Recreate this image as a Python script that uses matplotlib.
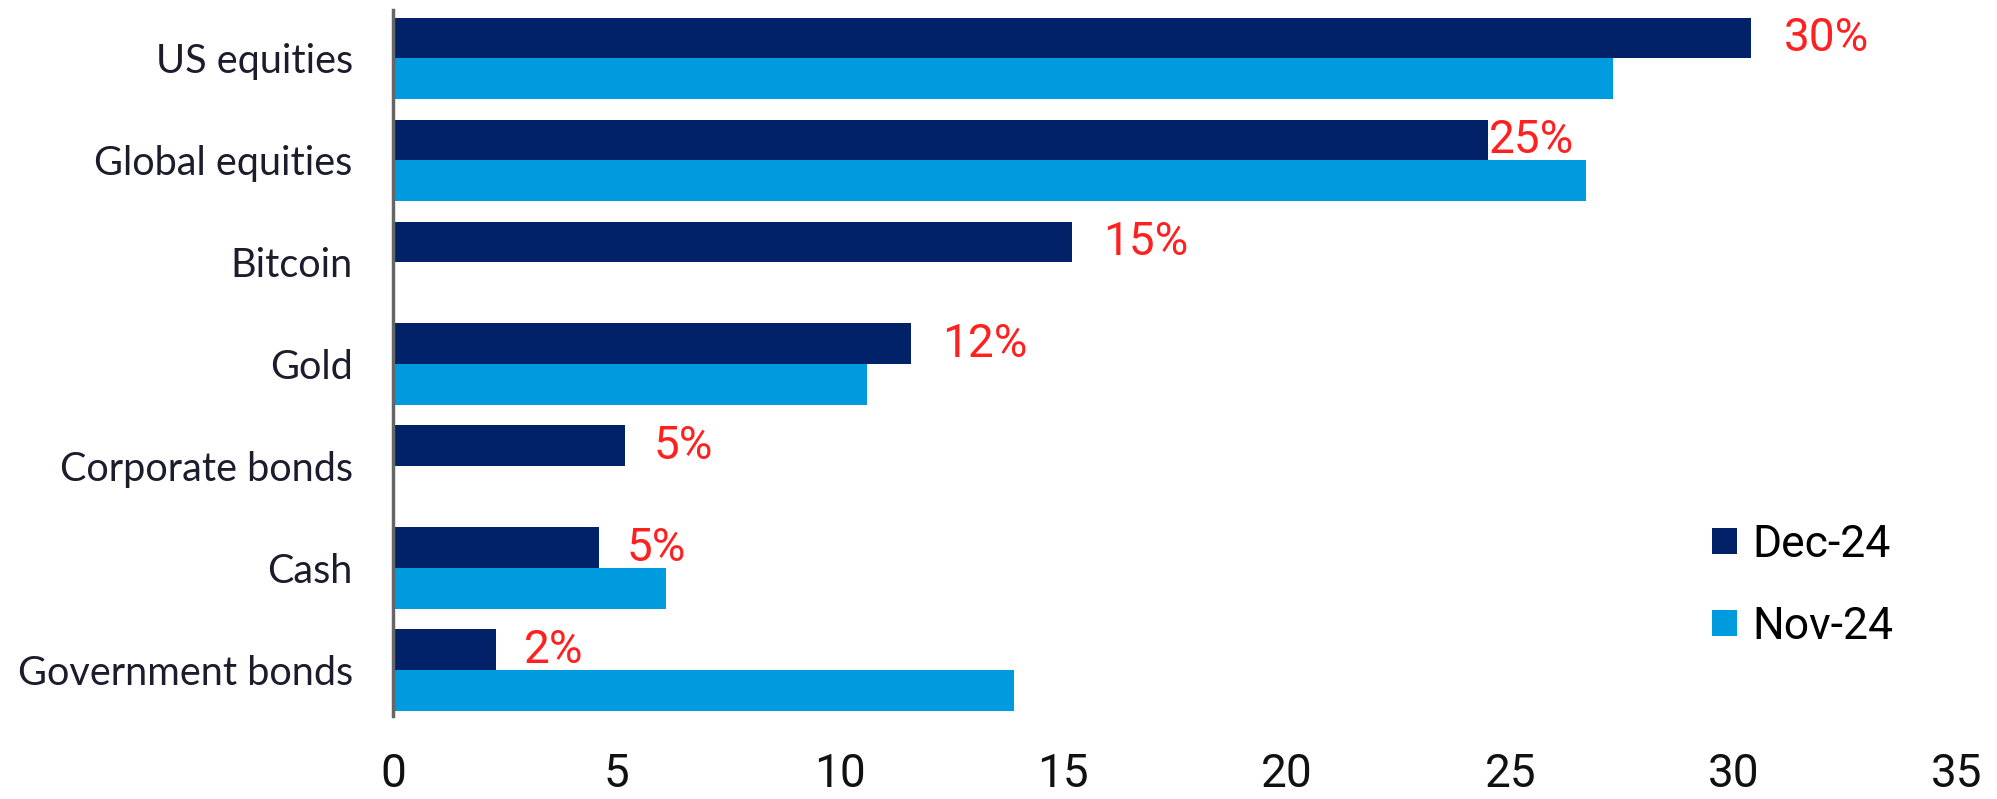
import numpy as np
import matplotlib
matplotlib.use('Agg')
import matplotlib.pyplot as plt

categories = ['US equities', 'Global equities', 'Bitcoin', 'Gold',
              'Corporate bonds', 'Cash', 'Government bonds']
dec24 = [30.4, 24.5, 15.2, 11.6, 5.2, 4.6, 2.3]
nov24 = [27.3, 26.7, 0.0, 10.6, 0.0, 6.1, 13.9]
labels = ['30%', '25%', '15%', '12%', '5%', '5%', '2%']
label_off = [23, 1, 22, 22, 20, 20, 20]   # points right of the bar end

navy = '#012169'
blue = '#009ADE'
red = '#FF2020'
numfont = ['Roboto', 'DejaVu Sans']

fig = plt.figure(figsize=(19.97, 7.99), dpi=100)
ax = fig.add_axes([0.1968, 0.1039, 0.7832, 0.8836])

y = np.arange(len(categories))
h = 0.4
ax.barh(y - h/2, dec24, height=h, color=navy, label='Dec-24')
ax.barh(y + h/2, nov24, height=h, color=blue, label='Nov-24')

for i in range(len(categories)):
    ax.annotate(labels[i], xy=(dec24[i], y[i] - h/2), xytext=(label_off[i], 0),
                textcoords='offset points', va='center', ha='left',
                color=red, fontsize=33, family=numfont)

ax.set_xlim(0, 35)
ax.set_ylim(6.45, -0.475)
ax.set_xticks(np.arange(0, 36, 5))
ax.set_yticks(y)
ax.set_yticklabels(categories, family=['Lato', 'DejaVu Sans'], fontsize=28.5, color='#1c1c2c')
for t in ax.get_xticklabels():
    t.set_family(numfont)
    t.set_fontsize(33)
    t.set_color('#111111')
ax.tick_params(axis='both', length=0)
ax.tick_params(axis='x', pad=26)
ax.tick_params(axis='y', pad=29)

for s in ['top', 'right', 'bottom']:
    ax.spines[s].set_visible(False)
ax.spines['left'].set_color('#666666')
ax.spines['left'].set_linewidth(2.5)

ax.legend(loc='lower right', bbox_to_anchor=(0.985, 0.04), frameon=False,
          handlelength=0.55, handleheight=0.55, handletextpad=0.35, labelspacing=0.9,
          prop={'family': numfont, 'size': 32})

fig.savefig('out.png', dpi=100)
